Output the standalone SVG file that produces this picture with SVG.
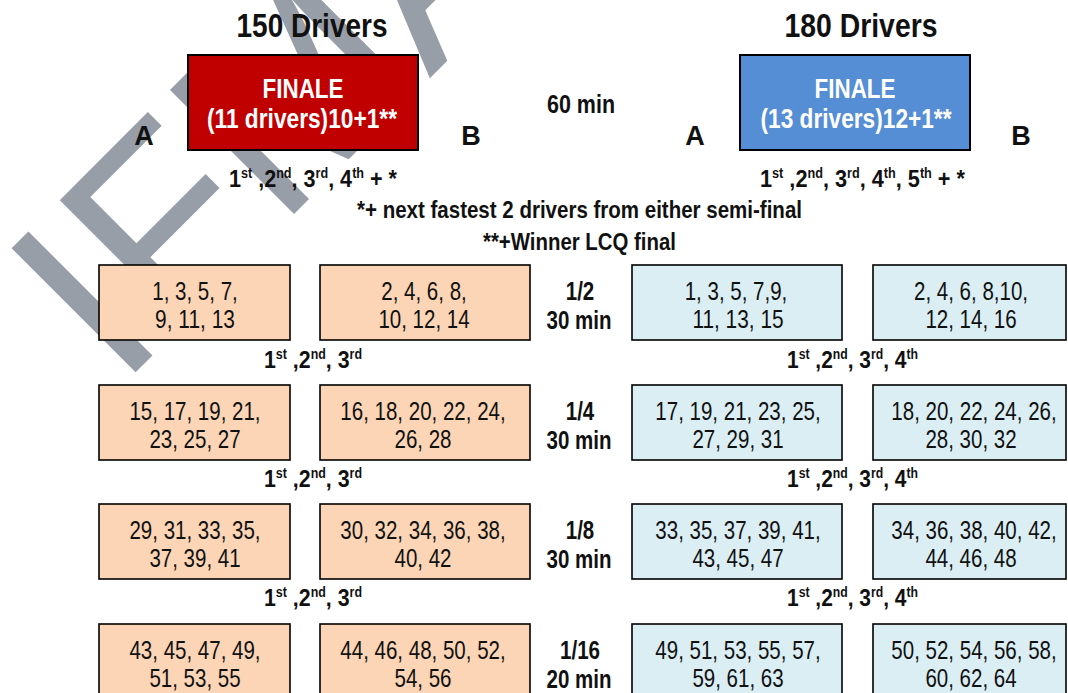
<svg xmlns="http://www.w3.org/2000/svg" width="1068" height="693" viewBox="0 0 1068 693">
<style>
.wm{font-family:"Liberation Sans",Arial,sans-serif;font-size:255px;fill:#989ea8}
.t{font-family:"Liberation Sans Narrow","Liberation Sans",Arial,sans-serif;fill:#111}
.b{font-weight:bold}
.c{text-anchor:middle}
.title{font-size:34px}
.fin{font-size:27px;fill:#fff}
.ab{font-size:27px}
.lbl{font-size:25px}
.num{font-size:25px}
.rk{font-size:24px}
.sup{font-size:14px}
.note{font-size:24px}
.red{fill:#c00000;stroke:#000;stroke-width:2}
.blue{fill:#558ed5;stroke:#000;stroke-width:2}
.or{fill:#fbd5b5;stroke:#000;stroke-width:1.6}
.lb{fill:#dbeef4;stroke:#000;stroke-width:1.6}
</style>
<rect width="1068" height="693" fill="#fff"/>
<g id="watermark">
<text class="wm" transform="translate(119,389) rotate(-45)" x="0" y="0">IFMA</text>
</g>

<g id="title-150">
<text class="t b c title" x="312" y="37" textLength="151" lengthAdjust="spacingAndGlyphs">150 Drivers</text>
</g>
<g id="title-180">
<text class="t b c title" x="861" y="37" textLength="153" lengthAdjust="spacingAndGlyphs">180 Drivers</text>
</g>

<g id="finale-150">
<rect class="red" x="188" y="55" width="230" height="95"/>
<text class="t b c fin" x="303" y="98" textLength="81" lengthAdjust="spacingAndGlyphs">FINALE</text>
<text class="t b c fin" x="302" y="128" textLength="190" lengthAdjust="spacingAndGlyphs">(11 drivers)10+1**</text>
</g>
<g id="finale-180">
<rect class="blue" x="740" y="55" width="230" height="95"/>
<text class="t b c fin" x="855" y="98" textLength="81" lengthAdjust="spacingAndGlyphs">FINALE</text>
<text class="t b c fin" x="856" y="128" textLength="191" lengthAdjust="spacingAndGlyphs">(13 drivers)12+1**</text>
</g>

<g id="labels-ab">
<text class="t b c ab" x="144" y="145">A</text>
<text class="t b c ab" x="471" y="145">B</text>
<text class="t b c ab" x="695" y="145">A</text>
<text class="t b c ab" x="1021" y="145">B</text>
</g>
<g id="time-final">
<text class="t b c lbl" x="581" y="113" textLength="68" lengthAdjust="spacingAndGlyphs">60 min</text>
</g>

<g id="rank-final-150">
<text class="t b rk" x="229" y="187" textLength="168" lengthAdjust="spacingAndGlyphs">1<tspan class="sup" dy="-9">st</tspan><tspan dy="9"> ,2</tspan><tspan class="sup" dy="-9">nd</tspan><tspan dy="9">, 3</tspan><tspan class="sup" dy="-9">rd</tspan><tspan dy="9">, 4</tspan><tspan class="sup" dy="-9">th</tspan><tspan dy="9"> + *</tspan></text>
</g>
<g id="rank-final-180">
<text class="t b rk" x="760" y="187" textLength="205" lengthAdjust="spacingAndGlyphs">1<tspan class="sup" dy="-9">st</tspan><tspan dy="9"> ,2</tspan><tspan class="sup" dy="-9">nd</tspan><tspan dy="9">, 3</tspan><tspan class="sup" dy="-9">rd</tspan><tspan dy="9">, 4</tspan><tspan class="sup" dy="-9">th</tspan><tspan dy="9">, 5</tspan><tspan class="sup" dy="-9">th</tspan><tspan dy="9"> + *</tspan></text>
</g>
<g id="notes">
<text class="t b note" x="357" y="218" textLength="445" lengthAdjust="spacingAndGlyphs">*+ next fastest 2 drivers from either semi-final</text>
<text class="t b note" x="483" y="250" textLength="193" lengthAdjust="spacingAndGlyphs">**+Winner LCQ final</text>
</g>

<!-- Row 1/2 -->
<g id="r1-o1"><rect class="or" x="99" y="265" width="191" height="75"/>
<text class="t c num" x="195" y="300" textLength="85.5" lengthAdjust="spacingAndGlyphs">1, 3, 5, 7,</text>
<text class="t c num" x="195" y="328" textLength="79.8" lengthAdjust="spacingAndGlyphs">9, 11, 13</text></g>
<g id="r1-o2"><rect class="or" x="320" y="265" width="210" height="75"/>
<text class="t c num" x="424" y="300" textLength="85.5" lengthAdjust="spacingAndGlyphs">2, 4, 6, 8,</text>
<text class="t c num" x="424" y="328" textLength="91.2" lengthAdjust="spacingAndGlyphs">10, 12, 14</text></g>
<g id="r1-lbl"><text class="t b c lbl" x="580" y="300" textLength="28.5" lengthAdjust="spacingAndGlyphs">1/2</text>
<text class="t b c lbl" x="579" y="329" textLength="65" lengthAdjust="spacingAndGlyphs">30 min</text></g>
<g id="r1-b1"><rect class="lb" x="632" y="265" width="210" height="75"/>
<text class="t c num" x="736" y="300" textLength="102.6" lengthAdjust="spacingAndGlyphs">1, 3, 5, 7,9,</text>
<text class="t c num" x="738" y="328" textLength="91.2" lengthAdjust="spacingAndGlyphs">11, 13, 15</text></g>
<g id="r1-b2"><rect class="lb" x="873" y="265" width="193" height="75"/>
<text class="t c num" x="971" y="300" textLength="114" lengthAdjust="spacingAndGlyphs">2, 4, 6, 8,10,</text>
<text class="t c num" x="971" y="328" textLength="91.2" lengthAdjust="spacingAndGlyphs">12, 14, 16</text></g>
<g id="rank-r1">
<text class="t b rk" x="264" y="368" textLength="98" lengthAdjust="spacingAndGlyphs">1<tspan class="sup" dy="-9">st</tspan><tspan dy="9"> ,2</tspan><tspan class="sup" dy="-9">nd</tspan><tspan dy="9">, 3</tspan><tspan class="sup" dy="-9">rd</tspan></text>
<text class="t b rk" x="787" y="368" textLength="131" lengthAdjust="spacingAndGlyphs">1<tspan class="sup" dy="-9">st</tspan><tspan dy="9"> ,2</tspan><tspan class="sup" dy="-9">nd</tspan><tspan dy="9">, 3</tspan><tspan class="sup" dy="-9">rd</tspan><tspan dy="9">, 4</tspan><tspan class="sup" dy="-9">th</tspan></text>
</g>

<!-- Row 1/4 -->
<g id="r2-o1"><rect class="or" x="99" y="385" width="191" height="75"/>
<text class="t c num" x="195" y="420" textLength="131.1" lengthAdjust="spacingAndGlyphs">15, 17, 19, 21,</text>
<text class="t c num" x="195" y="448" textLength="91.2" lengthAdjust="spacingAndGlyphs">23, 25, 27</text></g>
<g id="r2-o2"><rect class="or" x="320" y="385" width="210" height="75"/>
<text class="t c num" x="423" y="420" textLength="165.3" lengthAdjust="spacingAndGlyphs">16, 18, 20, 22, 24,</text>
<text class="t c num" x="423" y="448" textLength="57" lengthAdjust="spacingAndGlyphs">26, 28</text></g>
<g id="r2-lbl"><text class="t b c lbl" x="580" y="420" textLength="28.5" lengthAdjust="spacingAndGlyphs">1/4</text>
<text class="t b c lbl" x="579" y="449" textLength="65" lengthAdjust="spacingAndGlyphs">30 min</text></g>
<g id="r2-b1"><rect class="lb" x="632" y="385" width="210" height="75"/>
<text class="t c num" x="738" y="420" textLength="165.3" lengthAdjust="spacingAndGlyphs">17, 19, 21, 23, 25,</text>
<text class="t c num" x="738" y="448" textLength="91.2" lengthAdjust="spacingAndGlyphs">27, 29, 31</text></g>
<g id="r2-b2"><rect class="lb" x="873" y="385" width="193" height="75"/>
<text class="t c num" x="974" y="420" textLength="165.3" lengthAdjust="spacingAndGlyphs">18, 20, 22, 24, 26,</text>
<text class="t c num" x="971" y="448" textLength="91.2" lengthAdjust="spacingAndGlyphs">28, 30, 32</text></g>
<g id="rank-r2">
<text class="t b rk" x="264" y="487" textLength="98" lengthAdjust="spacingAndGlyphs">1<tspan class="sup" dy="-9">st</tspan><tspan dy="9"> ,2</tspan><tspan class="sup" dy="-9">nd</tspan><tspan dy="9">, 3</tspan><tspan class="sup" dy="-9">rd</tspan></text>
<text class="t b rk" x="787" y="487" textLength="131" lengthAdjust="spacingAndGlyphs">1<tspan class="sup" dy="-9">st</tspan><tspan dy="9"> ,2</tspan><tspan class="sup" dy="-9">nd</tspan><tspan dy="9">, 3</tspan><tspan class="sup" dy="-9">rd</tspan><tspan dy="9">, 4</tspan><tspan class="sup" dy="-9">th</tspan></text>
</g>

<!-- Row 1/8 -->
<g id="r3-o1"><rect class="or" x="99" y="504" width="191" height="75"/>
<text class="t c num" x="195" y="539" textLength="131.1" lengthAdjust="spacingAndGlyphs">29, 31, 33, 35,</text>
<text class="t c num" x="195" y="567" textLength="91.2" lengthAdjust="spacingAndGlyphs">37, 39, 41</text></g>
<g id="r3-o2"><rect class="or" x="320" y="504" width="210" height="75"/>
<text class="t c num" x="423" y="539" textLength="165.3" lengthAdjust="spacingAndGlyphs">30, 32, 34, 36, 38,</text>
<text class="t c num" x="423" y="567" textLength="57" lengthAdjust="spacingAndGlyphs">40, 42</text></g>
<g id="r3-lbl"><text class="t b c lbl" x="580" y="539" textLength="28.5" lengthAdjust="spacingAndGlyphs">1/8</text>
<text class="t b c lbl" x="579" y="568" textLength="65" lengthAdjust="spacingAndGlyphs">30 min</text></g>
<g id="r3-b1"><rect class="lb" x="632" y="504" width="210" height="75"/>
<text class="t c num" x="738" y="539" textLength="165.3" lengthAdjust="spacingAndGlyphs">33, 35, 37, 39, 41,</text>
<text class="t c num" x="738" y="567" textLength="91.2" lengthAdjust="spacingAndGlyphs">43, 45, 47</text></g>
<g id="r3-b2"><rect class="lb" x="873" y="504" width="193" height="75"/>
<text class="t c num" x="974" y="539" textLength="165.3" lengthAdjust="spacingAndGlyphs">34, 36, 38, 40, 42,</text>
<text class="t c num" x="971" y="567" textLength="91.2" lengthAdjust="spacingAndGlyphs">44, 46, 48</text></g>
<g id="rank-r3">
<text class="t b rk" x="264" y="606" textLength="98" lengthAdjust="spacingAndGlyphs">1<tspan class="sup" dy="-9">st</tspan><tspan dy="9"> ,2</tspan><tspan class="sup" dy="-9">nd</tspan><tspan dy="9">, 3</tspan><tspan class="sup" dy="-9">rd</tspan></text>
<text class="t b rk" x="787" y="606" textLength="131" lengthAdjust="spacingAndGlyphs">1<tspan class="sup" dy="-9">st</tspan><tspan dy="9"> ,2</tspan><tspan class="sup" dy="-9">nd</tspan><tspan dy="9">, 3</tspan><tspan class="sup" dy="-9">rd</tspan><tspan dy="9">, 4</tspan><tspan class="sup" dy="-9">th</tspan></text>
</g>

<!-- Row 1/16 -->
<g id="r4-o1"><rect class="or" x="99" y="624" width="191" height="76"/>
<text class="t c num" x="195" y="659" textLength="131.1" lengthAdjust="spacingAndGlyphs">43, 45, 47, 49,</text>
<text class="t c num" x="195" y="687" textLength="91.2" lengthAdjust="spacingAndGlyphs">51, 53, 55</text></g>
<g id="r4-o2"><rect class="or" x="320" y="624" width="210" height="76"/>
<text class="t c num" x="423" y="659" textLength="165.3" lengthAdjust="spacingAndGlyphs">44, 46, 48, 50, 52,</text>
<text class="t c num" x="423" y="687" textLength="57" lengthAdjust="spacingAndGlyphs">54, 56</text></g>
<g id="r4-lbl"><text class="t b c lbl" x="580" y="659" textLength="40" lengthAdjust="spacingAndGlyphs">1/16</text>
<text class="t b c lbl" x="579" y="688" textLength="65" lengthAdjust="spacingAndGlyphs">20 min</text></g>
<g id="r4-b1"><rect class="lb" x="632" y="624" width="210" height="76"/>
<text class="t c num" x="738" y="659" textLength="165.3" lengthAdjust="spacingAndGlyphs">49, 51, 53, 55, 57,</text>
<text class="t c num" x="738" y="687" textLength="91.2" lengthAdjust="spacingAndGlyphs">59, 61, 63</text></g>
<g id="r4-b2"><rect class="lb" x="873" y="624" width="193" height="76"/>
<text class="t c num" x="974" y="659" textLength="165.3" lengthAdjust="spacingAndGlyphs">50, 52, 54, 56, 58,</text>
<text class="t c num" x="971" y="687" textLength="91.2" lengthAdjust="spacingAndGlyphs">60, 62, 64</text></g>
</svg>
